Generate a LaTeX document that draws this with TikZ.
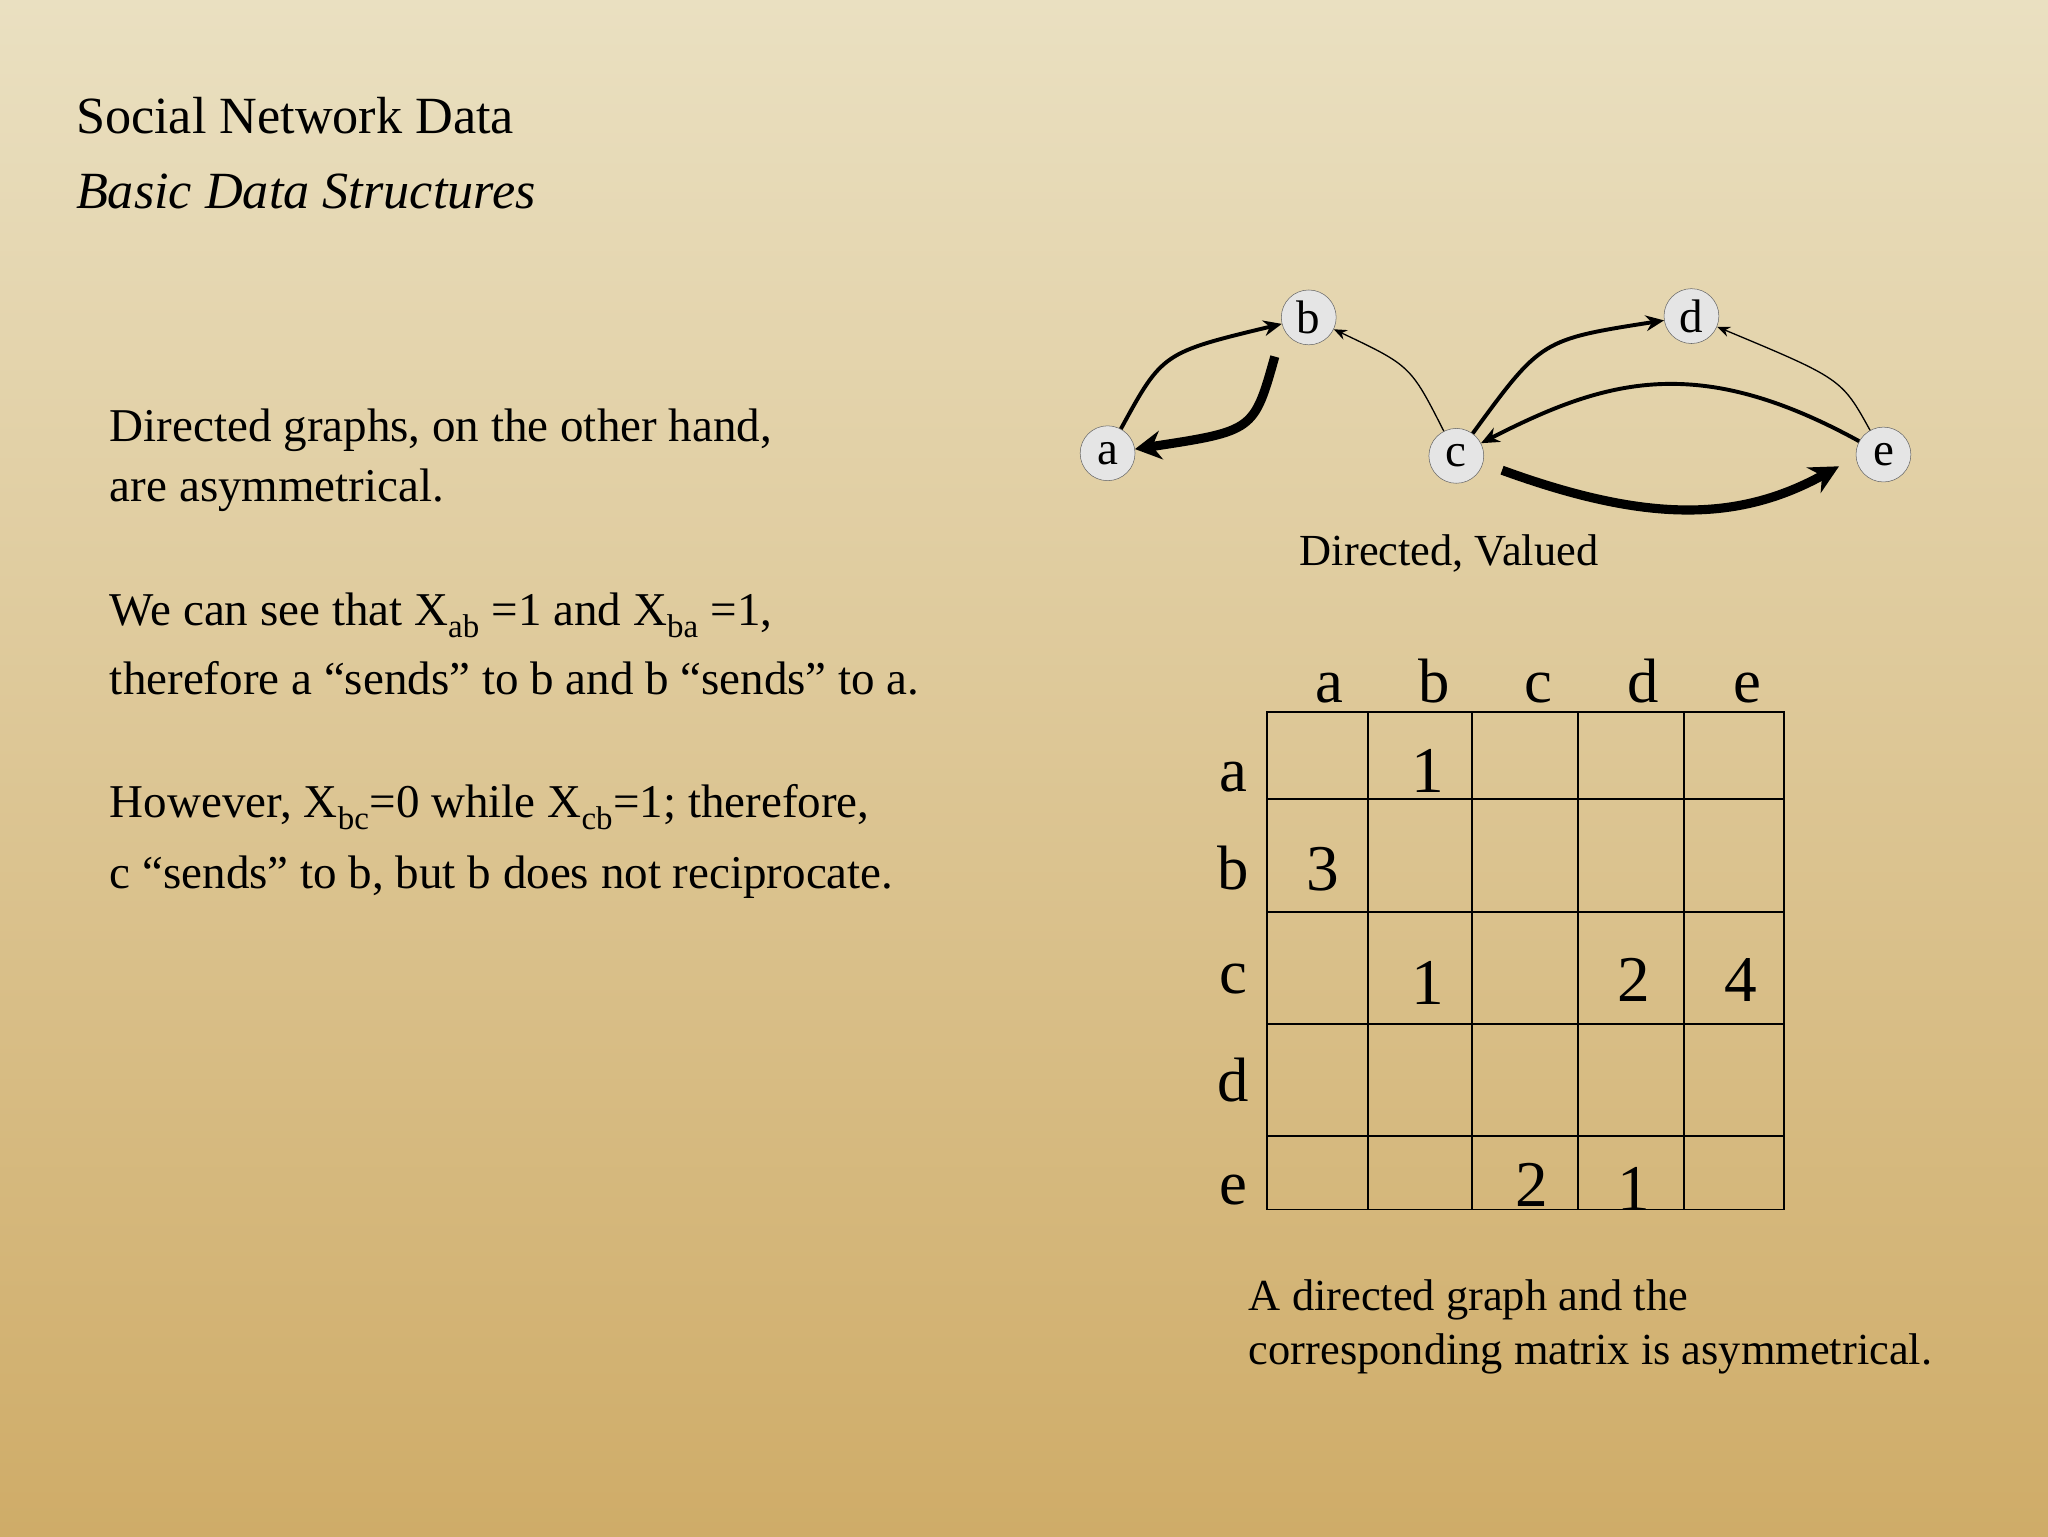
\documentclass[tikz,border=0pt]{standalone}
\usepackage{fontspec}
\setmainfont{Liberation Serif}
\usetikzlibrary{arrows.meta}
\begin{document}
\begin{tikzpicture}[x=1pt,y=-1pt,
  vtx/.style={circle,draw=gray!80!black,fill=gray!20,minimum size=42pt,inner sep=0pt,font=\fontsize{36}{36}\selectfont},
  txt/.style={anchor=base west,inner sep=0pt,font=\fontsize{36}{48}\selectfont},
  lab/.style={inner sep=0pt,anchor=base,font=\fontsize{48}{48}\selectfont},
  ent/.style={inner sep=0pt,anchor=base,font=\fontsize{50}{50}\selectfont},
  ed/.style={-{Stealth[length=14pt,width=12pt]}}]
\shade[top color={rgb,255:red,234;green,224;blue,193},bottom color={rgb,255:red,207;green,172;blue,104}] (0,0) rectangle (1568,1176);
\useasboundingbox (0,0) rectangle (1568,1176);
\node[txt,font=\fontsize{40}{40}\selectfont] (t1) at (58,102) {Social Network Data};
\node[txt,font=\fontsize{40}{40}\selectfont\itshape] (t2) at (58,160) {Basic Data Structures};
\node[txt] (p1) at (84,338) {Directed graphs, on the other hand,};
\node[txt] (p2) at (84,384) {are asymmetrical.};
\node[txt] (p3) at (84,479) {We can see that X\textsubscript{ab} =1 and X\textsubscript{ba} =1,};
\node[txt] (p4) at (84,532) {therefore a “sends” to b and b “sends” to a.};
\node[txt] (p5) at (84,626) {However, X\textsubscript{bc}=0 while X\textsubscript{cb}=1; therefore,};
\node[txt] (p6) at (84,680) {c “sends” to b, but b does not reciprocate.};
% graph
\node[vtx] (a) at (848,347) {a};
\node[vtx] (b) at (1002,243) {b};
\node[vtx] (c) at (1115,349) {c};
\node[vtx] (d) at (1295,242) {d};
\node[vtx] (e) at (1442,348) {e};
\draw[ed,line width=3pt] (a) .. controls (890,270) .. (b);
\draw[ed,line width=7pt,-{Stealth[length=20pt,width=22pt]}] (976,273) .. controls (960,330) .. (a);
\draw[ed,line width=1pt,-{Stealth[length=10pt,width=8pt]}] (c) .. controls (1080,280) .. (b);
\draw[ed,line width=3pt] (c) .. controls (1180,260) .. (d);
\draw[ed,line width=1pt,-{Stealth[length=10pt,width=8pt]}] (e) .. controls (1410,290) .. (d);
\draw[ed,line width=3pt] (e) .. controls (1300,270) and (1230,290) .. (c);
\draw[ed,line width=7pt,-{Stealth[length=22pt,width=22pt]}] (1150,360) .. controls (1260,400) and (1330,400) .. (1408,357);
\node[txt,font=\fontsize{34}{34}\selectfont] (cap1) at (995,433) {Directed, Valued};
% matrix
\draw[line width=1.5pt] (970,545) rectangle (1366,926);
\foreach \xx in {1047,1127,1208,1289} \draw[line width=1.5pt] (\xx,545) -- (\xx,926);
\foreach \yy in {612,698,784,870} \draw[line width=1.5pt] (970,\yy) -- (1366,\yy);
\foreach \l/\xx in {a/1018,b/1098,c/1178,d/1258,e/1338} \node[lab] (h\l) at (\xx,538) {\l};
\foreach \l/\yy in {a/606,b/681,c/761,d/843,e/922} \node[lab] (r\l) at (944,\yy) {\l};
\node[ent] (m1) at (1093,607) {1};
\node[ent] (m2) at (1013,682) {3};
\node[ent] (m3) at (1093,769) {1};
\node[ent] (m4) at (1251,767) {2};
\node[ent] (m5) at (1333,767) {4};
\node[ent] (m6) at (1173,924) {2};
\node[ent] (m7) at (1251,927) {1};
\node[txt,font=\fontsize{34}{34}\selectfont] (c1) at (956,1003) {A directed graph and the};
\node[txt,font=\fontsize{34}{34}\selectfont] (c2) at (956,1045) {corresponding matrix is asymmetrical.};
\end{tikzpicture}
\end{document}
